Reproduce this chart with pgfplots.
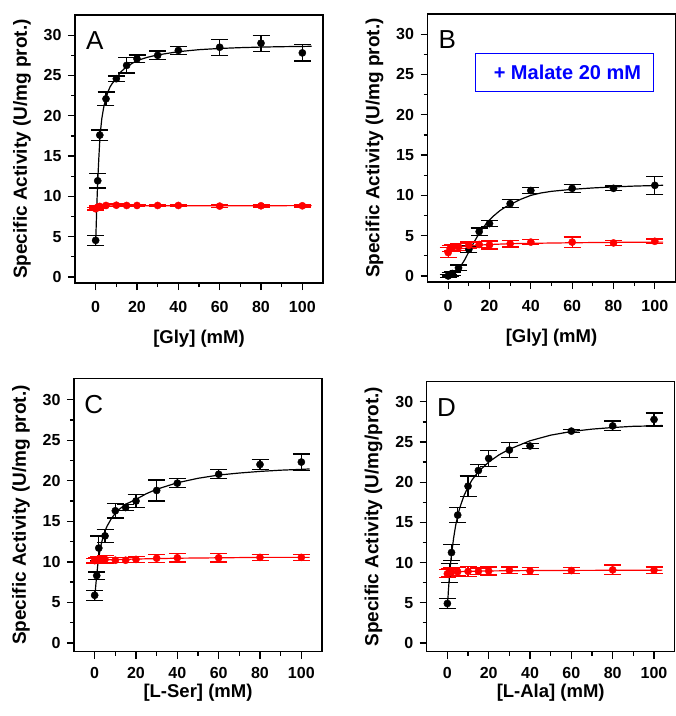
\documentclass[border=0pt]{standalone}
\usepackage{fontspec}
\setmainfont{Liberation Sans}
\usepackage{pgfplots}
\pgfplotsset{compat=1.18}
\definecolor{redc}{HTML}{FF0000}
\definecolor{bluec}{HTML}{0000FF}
\pgfplotsset{
  panel/.style={
    scale only axis, width=248pt, height=268pt,
    xmin=-10, xmax=110, ymin=-0.75, ymax=32.5,
    xtick={0,20,...,100}, minor xtick={10,30,...,90},
    ytick={0,5,...,30}, minor ytick={2.5,7.5,...,27.5},
    tick align=outside, tick pos=left,
    major tick length=7pt, minor tick length=4pt,
    axis line style={line width=1.3pt},
    every tick/.style={black, line width=1.3pt},
    /pgf/number format/assume math mode=true,
    ticklabel style={font=\fontsize{16}{16}\selectfont\bfseries},
    yticklabel style={xshift=-3pt},
    every axis y label/.style={at={(axis description cs:-0.214,0.5)}, anchor=center, rotate=90,
      font=\fontsize{19}{19}\selectfont\bfseries},
    ylabel={Specific Activity (U/mg prot.)},
    clip=false,
  },
  toprow/.style={
    xticklabel style={yshift=-8pt},
    every axis x label/.style={at={(axis description cs:0.5,-0.209)}, anchor=center,
      font=\fontsize{18.5}{18.5}\selectfont\bfseries},
  },
  botrow/.style={
    xticklabel style={yshift=-5pt},
    every axis x label/.style={at={(axis description cs:0.5,-0.152)}, anchor=center,
      font=\fontsize{18.5}{18.5}\selectfont\bfseries},
  },
  blk/.style={only marks, mark=*, mark size=3.6pt, black,
    error bars/.cd, y dir=both, y explicit,
    error bar style={line width=1.3pt, black},
    error mark options={rotate=90, mark size=8.5pt, line width=1.3pt, black}},
  rd/.style={only marks, mark=*, mark size=3.6pt, redc,
    error bars/.cd, y dir=both, y explicit,
    error bar style={line width=1.3pt, redc},
    error mark options={rotate=90, mark size=8.5pt, line width=1.3pt, redc}},
  fitb/.style={black, line width=1.2pt, no marks, line join=round},
  fitr/.style={redc, line width=1.2pt, no marks, line join=round},
}
\newcommand{\panellabel}[1]{\node[font=\fontsize{26}{26}\selectfont, anchor=center] at (rel axis cs:0.08,0.905) {#1};}

\begin{document}
\begin{tikzpicture}
\useasboundingbox (0,0) rectangle (676pt,-716pt);

% A
\begin{axis}[panel, toprow, at={(75pt,-15pt)}, anchor=north west, xlabel={[Gly] (mM)}]
\addplot[fitb] coordinates {(0,4.0) (0.25,6.3) (0.5,8.3) (0.75,10.2) (1,11.9) (1.5,14.6) (2,17.0) (2.5,18.5) (3,19.7) (4,21.2) (5,22.2) (6,23.0) (7,23.6) (8,24.0) (10,24.6) (12,25.4) (15,26.1) (20,26.85) (25,27.25) (30,27.55) (40,27.95) (50,28.2) (60,28.35) (70,28.45) (80,28.52) (90,28.57) (100,28.6) (104.5,28.62)};
\addplot[blk] coordinates {
 (0,4.54) +- (0,0.6)
 (1,11.93) +- (0,0.9)
 (2,17.6) +- (0,0.65)
 (5,22.1) +- (0,0.85)
 (10,24.6) +- (0,0.35)
 (15,26.25) +- (0,0.95)
 (20,27.07) +- (0,0.45)
 (30,27.5) +- (0,0.55)
 (40,28.1) +- (0,0.5)
 (60,28.5) +- (0,1.0)
 (80,29.0) +- (0,1.0)
 (100,27.8) +- (0,1.0)};
\addplot[fitr] coordinates {(0,8.5) (1,8.65) (2,8.72) (5,8.8) (10,8.83) (104.5,8.85)};
\addplot[rd] coordinates {
 (0,8.46) +- (0,0.15)
 (1,8.67) +- (0,0.15)
 (2,8.75) +- (0,0.15)
 (5,8.87) +- (0,0.15)
 (10,8.9) +- (0,0.15)
 (15,8.87) +- (0,0.15)
 (20,8.87) +- (0,0.15)
 (30,8.87) +- (0,0.15)
 (40,8.87) +- (0,0.15)
 (60,8.79) +- (0,0.15)
 (80,8.83) +- (0,0.15)
 (100,8.83) +- (0,0.15)};
\panellabel{A}
\end{axis}

% B
\begin{axis}[panel, toprow, at={(427.5pt,-14pt)}, anchor=north west, xlabel={[Gly] (mM)}]
\addplot[fitb] coordinates {(0,0.05) (2,0.25) (4,0.6) (6,1.2) (8,2.0) (10,3.0) (12,3.95) (14,4.85) (16,5.65) (18,6.35) (20,6.95) (22,7.45) (25,8.1) (28,8.6) (30,8.85) (35,9.5) (40,10.0) (45,10.3) (50,10.5) (60,10.75) (70,10.92) (80,11.05) (90,11.15) (100,11.22) (104,11.25)};
\addplot[blk] coordinates {
 (0,0.0) +- (0,0.2)
 (1,0.2) +- (0,0.2)
 (2,0.3) +- (0,0.2)
 (5,1.0) +- (0,0.35)
 (10,3.3) +- (0,0.4)
 (15,5.5) +- (0,0.45)
 (20,6.5) +- (0,0.35)
 (30,8.97) +- (0,0.5)
 (40,10.6) +- (0,0.4)
 (60,10.87) +- (0,0.5)
 (80,10.87) +- (0,0.3)
 (100,11.24) +- (0,1.1)};
\addplot[fitr] coordinates {(0,3.35) (2,3.45) (5,3.6) (10,3.75) (20,3.9) (30,4.0) (40,4.05) (60,4.12) (80,4.17) (104,4.2)};
\addplot[rd] coordinates {
 (0,2.9) +- (0,0.6)
 (1,3.4) +- (0,0.4)
 (2,3.5) +- (0,0.4)
 (5,3.6) +- (0,0.4)
 (10,3.8) +- (0,0.4)
 (15,3.9) +- (0,0.4)
 (20,3.85) +- (0,0.5)
 (30,4.0) +- (0,0.4)
 (40,4.2) +- (0,0.3)
 (60,4.2) +- (0,0.65)
 (80,4.1) +- (0,0.3)
 (100,4.3) +- (0,0.3)};
\panellabel{B}
\node[draw=bluec, line width=0.9pt, text=bluec, font=\fontsize{20}{20}\selectfont\bfseries,
  minimum width=178pt, minimum height=38pt, anchor=center] at (rel axis cs:0.552,0.783) {\hspace{6pt}+ Malate 20 mM};
\end{axis}

% C
\begin{axis}[panel, botrow, at={(74pt,-378.5pt)}, anchor=north west, height=273pt, ymin=-1.05, ymax=32.6, xlabel={[L-Ser] (mM)}]
\addplot[fitb] coordinates {(0,5.3) (0.5,7.0) (1,8.4) (1.5,9.6) (2,10.6) (3,12.0) (4,13.0) (5,13.8) (6,14.4) (8,15.3) (10,16.0) (12,16.5) (15,17.1) (20,17.7) (25,18.4) (30,18.95) (40,19.75) (50,20.3) (60,20.7) (70,20.95) (80,21.15) (90,21.3) (100,21.4) (104,21.45)};
\addplot[blk] coordinates {
 (0,5.88) +- (0,0.6)
 (1,8.3) +- (0,0.45)
 (2,11.7) +- (0,1.5)
 (5,13.2) +- (0,0.8)
 (10,16.3) +- (0,0.9)
 (15,16.7) +- (0,0.35)
 (20,17.5) +- (0,0.8)
 (30,18.8) +- (0,1.3)
 (40,19.7) +- (0,0.55)
 (60,20.8) +- (0,0.55)
 (80,22.0) +- (0,0.65)
 (100,22.3) +- (0,1.0)};
\addplot[fitr] coordinates {(0,10.2) (5,10.25) (20,10.35) (40,10.45) (60,10.5) (80,10.55) (104,10.55)};
\addplot[rd] coordinates {
 (0,10.15) +- (0,0.3)
 (1,10.2) +- (0,0.3)
 (2,10.3) +- (0,0.3)
 (5,10.3) +- (0,0.5)
 (10,10.2) +- (0,0.3)
 (15,10.2) +- (0,0.3)
 (20,10.3) +- (0,0.4)
 (30,10.45) +- (0,0.5)
 (40,10.5) +- (0,0.5)
 (60,10.5) +- (0,0.5)
 (80,10.55) +- (0,0.4)
 (100,10.55) +- (0,0.4)};
\panellabel{C}
\end{axis}

% D
\begin{axis}[panel, botrow, at={(426.7pt,-381.7pt)}, anchor=north west, height=270pt, ymin=-1.1, ymax=32.5, xlabel={[L-Ala] (mM)}, ylabel={Specific Activity (U/mg/prot.)}]
\addplot[fitb] coordinates {(0,4.3) (0.5,6.5) (1,8.3) (1.5,9.8) (2,11.0) (3,13.0) (4,14.6) (5,15.8) (6,16.8) (8,18.3) (10,19.4) (12,20.3) (15,21.3) (20,22.5) (25,23.4) (30,24.1) (40,25.15) (50,25.85) (60,26.3) (70,26.6) (80,26.8) (90,26.95) (100,27.0) (104,27.05)};
\addplot[blk] coordinates {
 (0,4.9) +- (0,0.6)
 (1,8.7) +- (0,1.2)
 (2,11.24) +- (0,1.0)
 (5,15.9) +- (0,0.95)
 (10,19.5) +- (0,1.25)
 (15,21.45) +- (0,0.75)
 (20,22.95) +- (0,1.0)
 (30,24.0) +- (0,0.9)
 (40,24.5) +- (0,0.35)
 (60,26.35) +- (0,0.2)
 (80,27.0) +- (0,0.6)
 (100,27.8) +- (0,0.8)};
\addplot[fitr] coordinates {(0,8.7) (5,8.85) (10,8.9) (20,8.95) (40,9.0) (104,9.05)};
\addplot[rd] coordinates {
 (0,8.6) +- (0,0.5)
 (1,8.75) +- (0,0.5)
 (2,8.8) +- (0,0.5)
 (5,8.85) +- (0,0.5)
 (10,8.9) +- (0,0.6)
 (15,8.9) +- (0,0.4)
 (20,8.95) +- (0,0.5)
 (30,9.05) +- (0,0.4)
 (40,8.95) +- (0,0.4)
 (60,9.0) +- (0,0.4)
 (80,9.08) +- (0,0.6)
 (100,9.05) +- (0,0.4)};
\panellabel{D}
\end{axis}
\end{tikzpicture}
\end{document}
